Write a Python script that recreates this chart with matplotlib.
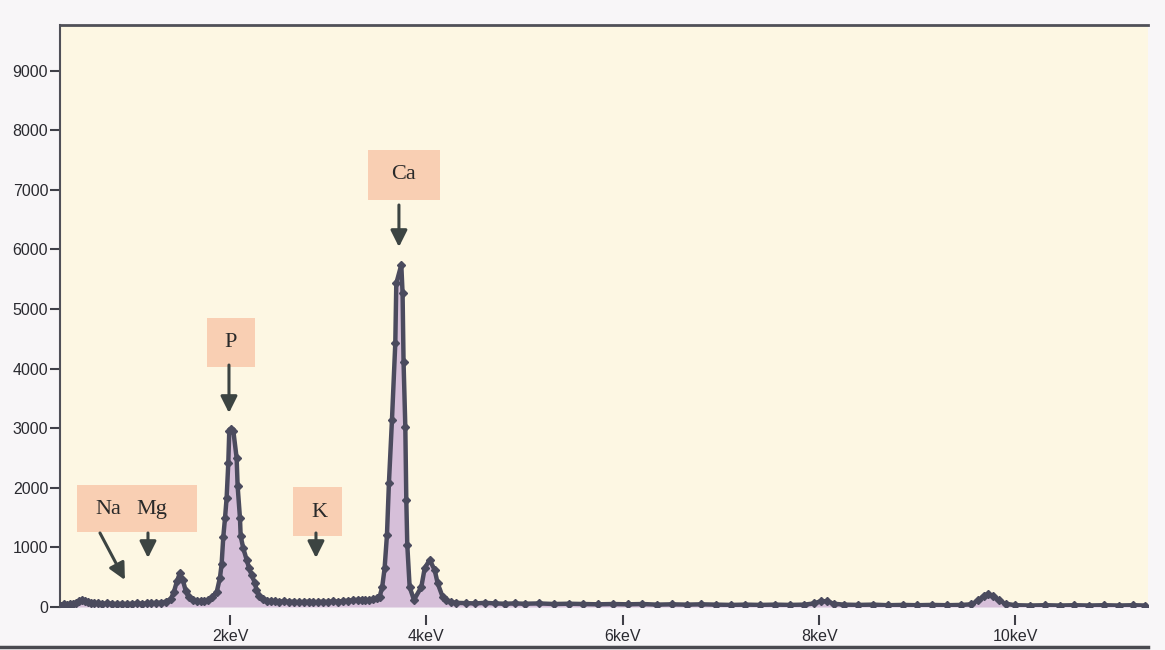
import matplotlib.pyplot as plt
from matplotlib.lines import Line2D
from matplotlib.patches import Rectangle

# EDS spectrum (energy in keV, counts)
energy_kev = [0.25, 0.28, 0.31, 0.34, 0.37, 0.40, 0.43, 0.46, 0.49, 0.52, 0.55, 0.58,
              0.62, 0.66, 0.70, 0.75, 0.80, 0.85, 0.90, 0.95, 1.00, 1.05, 1.10, 1.15,
              1.20, 1.25, 1.30, 1.35, 1.40, 1.43, 1.46, 1.49, 1.52, 1.55, 1.58, 1.62,
              1.66, 1.70, 1.74, 1.78, 1.82, 1.865, 1.898, 1.915, 1.932, 1.95, 1.966,
              1.983, 1.993, 2.013, 2.034, 2.068, 2.078, 2.102, 2.109, 2.135, 2.17,
              2.195, 2.22, 2.255, 2.27, 2.30, 2.34, 2.38, 2.42, 2.46, 2.50, 2.55,
              2.60, 2.65, 2.70, 2.75, 2.80, 2.85, 2.90, 2.95, 3.00, 3.05, 3.10, 3.15,
              3.20, 3.25, 3.30, 3.34, 3.38, 3.42, 3.46, 3.50, 3.524, 3.55, 3.575,
              3.599, 3.619, 3.650, 3.684, 3.694, 3.745, 3.758, 3.768, 3.786, 3.796,
              3.806, 3.830, 3.874, 3.949, 3.983, 4.034, 4.085, 4.115, 4.166, 4.20,
              4.25, 4.30, 4.40, 4.50, 4.60, 4.70, 4.80, 4.90, 5.00, 5.15, 5.30, 5.45,
              5.60, 5.75, 5.90, 6.05, 6.20, 6.35, 6.50, 6.65, 6.80, 6.95, 7.10, 7.25,
              7.40, 7.55, 7.70, 7.85, 7.95, 8.02, 8.08, 8.15, 8.25, 8.40, 8.55, 8.70,
              8.85, 9.00, 9.15, 9.30, 9.45, 9.55, 9.62, 9.68, 9.72, 9.77, 9.83, 9.90,
              10.00, 10.15, 10.30, 10.45, 10.60, 10.75, 10.90, 11.05, 11.20, 11.32]
counts = [40, 25, 45, 30, 50, 55, 75, 95, 110, 100, 85, 70,
          65, 60, 55, 60, 55, 50, 55, 50, 55, 60, 55, 60,
          65, 70, 75, 90, 140, 260, 430, 570, 450, 270, 160, 110,
          95, 100, 105, 120, 170, 250, 490, 720, 1175, 1500, 1830,
          2415, 2960, 2990, 2960, 2500, 2030, 1490, 1190, 990, 790,
          650, 540, 400, 285, 190, 130, 105, 95, 100, 90, 95,
          85, 90, 80, 85, 90, 80, 85, 90, 85, 95, 90, 100,
          105, 115, 120, 120, 110, 115, 130, 150, 170, 330, 650,
          1210, 2080, 3140, 4430, 5430, 5740, 5270, 4110, 3020, 1795,
          1040, 335, 120, 335, 650, 790, 620, 400, 170, 110,
          85, 70, 65, 60, 70, 60, 55, 60, 55, 60, 50, 55,
          50, 45, 50, 45, 50, 40, 45, 40, 45, 40, 35, 40,
          35, 40, 35, 40, 60, 100, 95, 55, 40, 35, 40, 30,
          35, 30, 35, 30, 35, 45, 110, 190, 220, 180, 110, 55,
          30, 25, 30, 25, 30, 25, 30, 25, 30, 25]

y_ticks = [0, 1000, 2000, 3000, 4000, 5000, 6000, 7000, 8000, 9000]
x_ticks = [2, 4, 6, 8, 10]
x_tick_labels = ['2keV', '4keV', '6keV', '8keV', '10keV']

fig = plt.figure(figsize=(11.65, 6.5), dpi=100, facecolor='#F8F6F8')
ax = fig.add_axes([60 / 1165, 1 - 607 / 650, 1088 / 1165, 582 / 650])
ax.set_facecolor('#FDF7E3')

ax.fill_between(energy_kev, counts, 0, color='#D6BFD9', lw=0, zorder=2)
ax.plot(energy_kev, counts, color='#4B4B5E', lw=3.2, marker='D', ms=4,
        zorder=3, solid_joinstyle='round')

ax.set_xlim(0.269, 11.35)
ax.set_ylim(0, 9765)
ax.set_yticks(y_ticks)
ax.set_yticklabels([str(v) for v in y_ticks])
ax.set_xticks(x_ticks)
ax.set_xticklabels(x_tick_labels)

for side in ['right', 'bottom']:
    ax.spines[side].set_visible(False)
ax.spines['bottom'].set_position(('outward', 6))
ax.spines['top'].set_linewidth(2)
ax.spines['top'].set_color('#505058')
ax.spines['left'].set_linewidth(1.5)
ax.spines['left'].set_color('#505058')
ax.tick_params(direction='out', length=7, width=1.5, color='#404048',
               labelsize=11.5, labelcolor='#2A2A30')
ax.tick_params(axis='y', pad=1.5)
ax.tick_params(axis='x', pad=3)
for lab in ax.get_xticklabels() + ax.get_yticklabels():
    lab.set_family('Liberation Sans')

# element labels
box_color = '#F9CFB3'
arrow_color = '#3C4442'
label_font = dict(family='Liberation Serif', fontsize=16, color='#2A2A2A',
                  ha='center', va='center', zorder=6)
boxes = [(3.405, 6829, 0.733, 839), (1.766, 4027, 0.489, 822),
         (0.442, 1258, 1.222, 789), (2.641, 1191, 0.499, 822)]
for bx, by, bw, bh in boxes:
    ax.add_patch(Rectangle((bx, by), bw, bh, facecolor=box_color,
                           edgecolor='none', zorder=5))
ax.text(3.772, 7250, 'Ca', **label_font)
ax.text(2.01, 4446, 'P', **label_font)
ax.text(0.758, 1630, 'Na', **label_font)
ax.text(1.206, 1630, 'Mg', **label_font)
ax.text(2.916, 1590, 'K', **label_font)

arrows = [((3.721, 6745), (3.721, 6040)), ((1.99, 4060), (1.99, 3255)),
          ((0.676, 1242), (0.93, 453)), ((1.165, 1242), (1.165, 822)),
          ((2.876, 1242), (2.876, 822))]
for start, end in arrows:
    ax.annotate('', xy=end, xytext=start, zorder=6,
                arrowprops=dict(arrowstyle='-|>,head_length=1.0,head_width=0.5',
                                mutation_scale=10, lw=2.2, color=arrow_color,
                                shrinkA=0, shrinkB=0))

fig.add_artist(Line2D([0, 0.985], [1 - 647 / 650, 1 - 647 / 650],
                      color='#4A4A50', lw=2.5))

fig.savefig('out.png', dpi=100, facecolor=fig.get_facecolor())
